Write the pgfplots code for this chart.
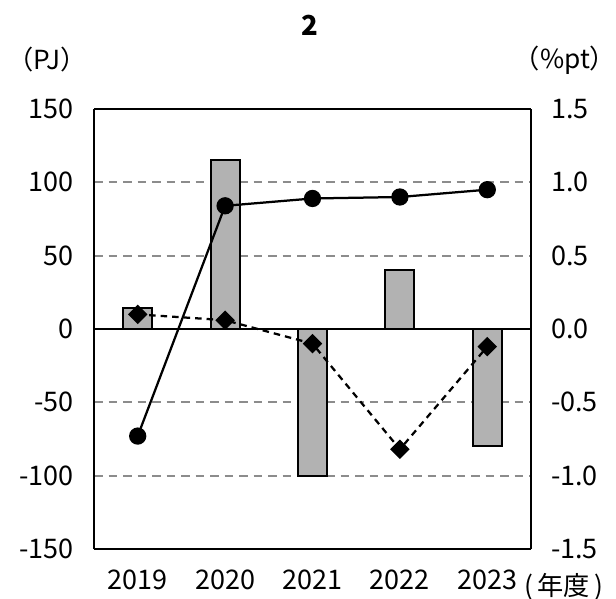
\documentclass[border=0pt]{standalone}
\usepackage{pgfplots}
\pgfplotsset{compat=1.18}
\usepackage{fontspec}
\setmainfont{Noto Sans CJK JP}
\definecolor{barfill}{RGB}{178,178,178}
\definecolor{gridgray}{RGB}{140,140,140}
\begin{document}
\begin{tikzpicture}[x=1pt,y=1pt]
\useasboundingbox (0,0) rectangle (246.4,239.2);
\pgfplotsset{
  every axis/.append style={
    at={(37.6pt,19.6pt)}, anchor=south west,
    scale only axis, width=174.8pt, height=176pt,
    xmin=-0.5, xmax=4.5,
    axis line style={line width=0.8pt},
    major tick length=0pt,
    tick label style={font=\fontsize{10.8}{12}\selectfont},
    /pgf/number format/assume math mode=true,
  },
}
\begin{axis}[
  ymin=-150, ymax=150,
  ytick={-150,-100,...,150},
  xtick={0,1,2,3,4},
  xticklabels={2019,2020,2021,2022,2023},
  xticklabel style={yshift=-5pt},
  yticklabel style={xshift=-4.5pt},
  ymajorgrids,
  grid style={gridgray, dash pattern=on 3.4pt off 2.4pt, line width=0.7pt},
  axis y line*=left,
  axis x line*=box,
]
\addplot[ybar, bar width=11.6pt, fill=barfill, draw=black, line width=0.8pt]
  coordinates {(0,14) (1,115) (2,-100) (3,40) (4,-80)};
\draw[black, line width=0.6pt] (axis cs:-0.5,0) -- (axis cs:4.5,0);
\end{axis}
\begin{axis}[
  ymin=-1.5, ymax=1.5,
  ytick={-1.5,-1.0,...,1.5},
  yticklabel style={xshift=4.5pt, /pgf/number format/.cd, fixed, fixed zerofill, precision=1},
  xtick=\empty,
  axis y line*=right,
  axis x line=none,
]
\addplot[black, line width=0.9pt, mark=*, mark size=3pt]
  coordinates {(0,-0.73) (1,0.84) (2,0.89) (3,0.90) (4,0.95)};
\addplot[black, line width=0.9pt, dash pattern=on 2.6pt off 2pt, mark=square*, mark size=2.3pt, mark options={solid, rotate=45}]
  coordinates {(0,0.10) (1,0.06) (2,-0.10) (3,-0.82) (4,-0.12)};
\end{axis}
\node[font=\fontsize{11}{13}\selectfont\bfseries] at (124,229.2) {2};
\node[font=\fontsize{10.5}{12}\selectfont] at (18.8,215.2) {（PJ）};
\node[font=\fontsize{10.5}{12}\selectfont] at (226,215.2) {（\%pt）};
\node[font=\fontsize{10.5}{12}\selectfont, inner sep=0pt] at (225.6,4.6) {(\,年度\,)};
\end{tikzpicture}
\end{document}
